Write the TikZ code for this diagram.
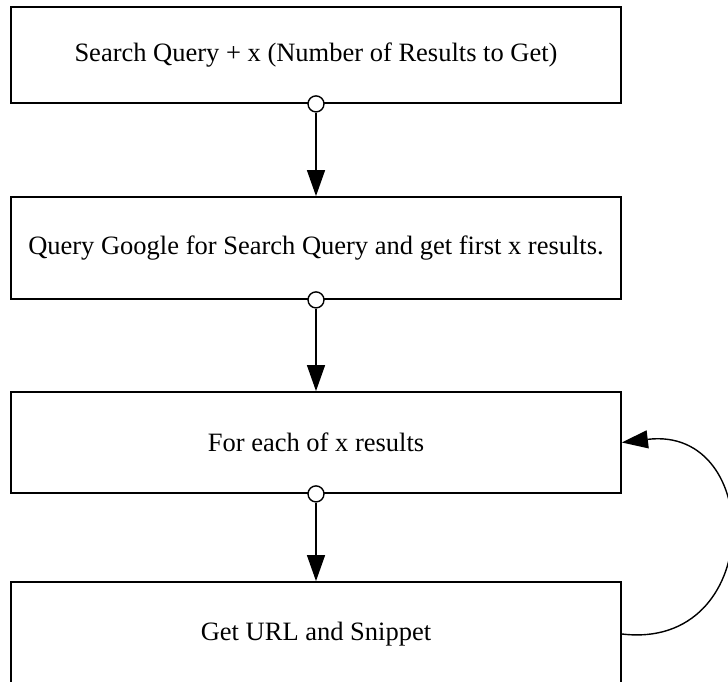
\documentclass[tikz,border=0pt]{standalone}
\usepackage{fontspec}
\setmainfont{Liberation Serif}
\usetikzlibrary{arrows.meta}
\begin{document}
\begin{tikzpicture}[x=1pt,y=-1pt,
  stepbox/.style={draw, line width=1.8pt, minimum width=610pt, inner sep=0pt,
    font=\fontsize{26.5}{30}\selectfont},
  flow/.style={line width=1.4pt, -{Triangle[length=26pt,width=18pt]}},
  port/.style={draw, circle, line width=1.4pt, fill=white, minimum size=16pt, inner sep=0pt}]
\useasboundingbox (0,0) rectangle (728,682);
\clip (0,0) rectangle (728,682);

% process steps
\node[stepbox, minimum height=96pt]  (b1) at (316,55)    {Search Query + x (Number of Results to Get)};
\node[stepbox, minimum height=102pt] (b2) at (316,248)   {Query Google for Search Query and get first x results.};
\node[stepbox, minimum height=101pt] (b3) at (316,442.5) {For each of x results};
\node[stepbox, minimum height=104pt] (b4) at (316,634)   {Get URL and Snippet};

% output ports on the lower edges
\node[port] (p1) at (b1.south) {};
\node[port] (p2) at (b2.south) {};
\node[port] (p3) at (b3.south) {};

% flow arrows
\draw[flow] (p1.south) -- (b2.north);
\draw[flow] (p2.south) -- (b3.north);
\draw[flow] (p3.south) -- (b4.north);

% loop back to the iteration step
\draw[flow] (b4.east) .. controls +(143,17) and +(143,-17.5) .. (b3.east);
\end{tikzpicture}
\end{document}
